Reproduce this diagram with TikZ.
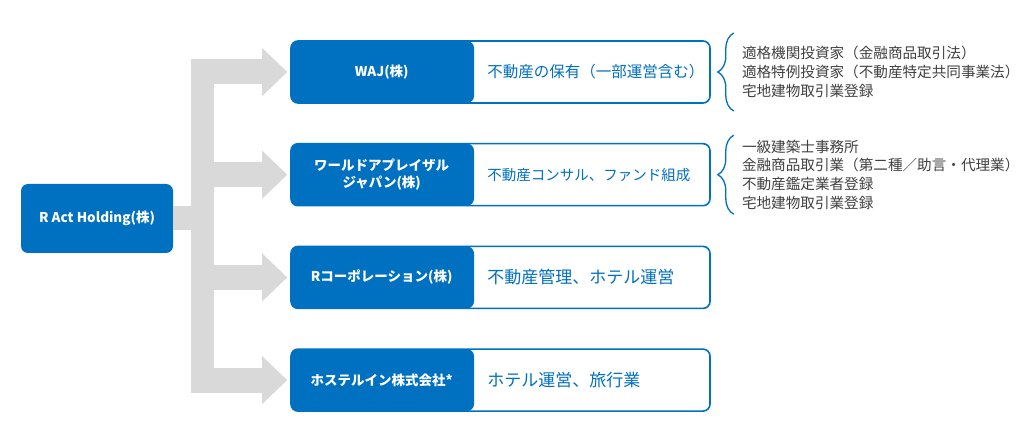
\documentclass[tikz,border=0pt]{standalone}
\usepackage{fontspec}
\newfontfamily\jp{Noto Sans CJK JP}
\usetikzlibrary{arrows.meta, positioning, decorations.pathreplacing}

\definecolor{rablue}{HTML}{0070C0}
\definecolor{raflow}{HTML}{D9D9D9}
\definecolor{ranote}{HTML}{404040}

\tikzset{
  holding/.style={fill=rablue, rounded corners=7pt, minimum width=152pt, minimum height=69pt,
    inner sep=0pt, text=white, font=\jp\bfseries\fontsize{13.5}{15}\selectfont},
  firm/.style={draw=rablue, line width=1.6pt, fill=white, rounded corners=7pt,
    minimum width=419pt, minimum height=62pt, inner sep=0pt,
    path picture={\fill[rablue] (path picture bounding box.north west)
      rectangle ([xshift=183pt]path picture bounding box.south west);}},
  firmname/.style={text=white, align=center, inner sep=0pt,
    font=\jp\bfseries\fontsize{13.5}{17}\selectfont},
  firmwork/.style={anchor=west, text=rablue, inner sep=0pt,
    font=\jp\fontsize{15.5}{18}\selectfont},
  flow/.style={draw=raflow, line width=25pt},
  flowarrow/.style={flow, -{Triangle[width=48pt, length=25pt, line width=0pt]}, shorten >=3pt},
  permitbrace/.style={draw=rablue, line width=1.3pt, decorate, decoration={brace, amplitude=16pt}},
  permits/.style={anchor=west, align=left, text=ranote, inner sep=0pt,
    font=\jp\fontsize{14.6}{18.7}\selectfont}
}

\begin{document}
\begin{tikzpicture}[x=1pt, y=-1pt, node distance=102.7pt, on grid]
  \useasboundingbox (0,0) rectangle (1024,427);

  % companies
  \node[holding] (holding) at (97,218.5) {R Act Holding(株)};
  \node[firm] (w1) at (500.5,72) {};
  \node[firm] (w2) [below=of w1] {};
  \node[firm] (w3) [below=of w2] {};
  \node[firm] (w4) [below=of w3] {};

  % grey flow arrows
  \coordinate (trunk) at (202.5,220);
  \draw[flow, line width=24pt] (holding.east) -- (holding.east -| trunk);
  \draw[flow, line width=23pt] ([yshift=12.5pt]trunk |- w1.west) -- ([yshift=-12.5pt]trunk |- w4.west);
  \foreach \i in {1,...,4}
    \draw[flowarrow] ([xshift=-11.5pt]trunk |- w\i.west) -- (w\i.west);

  % names and business
  \node[firmname] (w1name) at ([xshift=91.5pt]w1.west) {WAJ(株)};
  \node[firmname] (w2name) at ([xshift=91.5pt]w2.west) {ワールドアプレイザル\\ジャパン(株)};
  \node[firmname] (w3name) at ([xshift=91.5pt]w3.west) {Rコーポレーション(株)};
  \node[firmname] (w4name) at ([xshift=91.5pt]w4.west) {ホステルイン株式会社*};

  \node[firmwork] (w1work) at ([xshift=197pt]w1.west) {不動産の保有（一部運営含む）};
  \node[firmwork, font=\jp\fontsize{14.5}{18}\selectfont] (w2work) at ([xshift=197pt]w2.west) {不動産コンサル、ファンド組成};
  \node[firmwork, font=\jp\fontsize{17}{18}\selectfont] (w3work) at ([xshift=197pt]w3.west) {不動産管理、ホテル運営};
  \node[firmwork, font=\jp\fontsize{17}{18}\selectfont] (w4work) at ([xshift=197pt]w4.west) {ホテル運営、旅行業};

  % licences
  \draw[permitbrace] ([xshift=23pt, yshift=-39pt]w1.east) -- ([xshift=23pt, yshift=39pt]w1.east);
  \node[permits] (w1permits) at ([xshift=31pt]w1.east)
    {適格機関投資家（金融商品取引法）\\適格特例投資家（不動産特定共同事業法）\\宅地建物取引業登録};
  \draw[permitbrace] ([xshift=23pt, yshift=-39.5pt]w2.east) -- ([xshift=23pt, yshift=39.5pt]w2.east);
  \node[permits] (w2permits) at ([xshift=31pt]w2.east)
    {一級建築士事務所\\金融商品取引業（第二種／助言・代理業）\\不動産鑑定業者登録\\宅地建物取引業登録};
\end{tikzpicture}
\end{document}
